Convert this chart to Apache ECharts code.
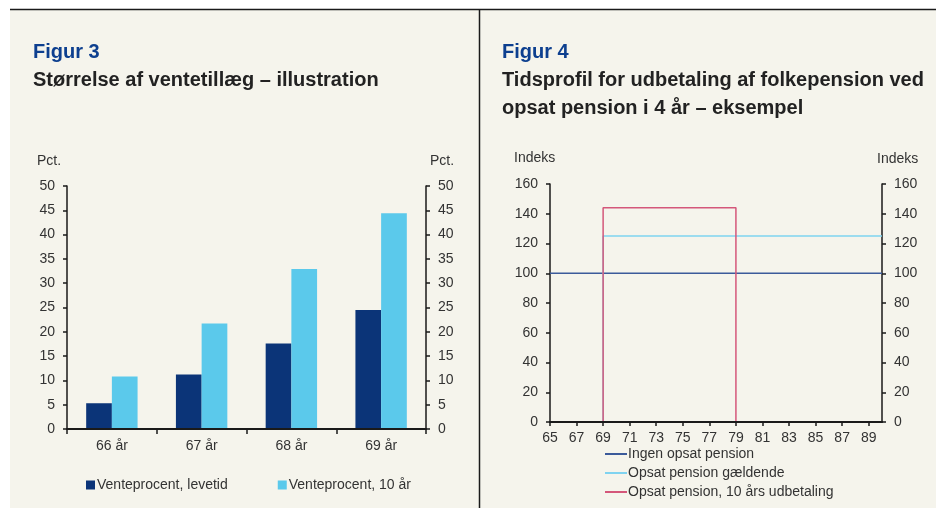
<!DOCTYPE html>
<html>
<head>
<meta charset="utf-8">
<script src="https://cdn.jsdelivr.net/npm/echarts@6/dist/echarts.min.js"></script>
<style>
  html, body { margin: 0; padding: 0; background: #ffffff; }
  #main { width: 936px; height: 508px; }
</style>
</head>
<body>
<div id="main"></div>
<script>
// Figur 3: ventetillæg
var alder = ['66 år', '67 år', '68 år', '69 år'];
var levetid = [5.3, 11.2, 17.6, 24.5];
var tiAar = [10.8, 21.7, 32.9, 44.4];

// Figur 4: tidsprofil
var aar = ['65','66','67','68','69','70','71','72','73','74','75','76','77','78','79','80','81','82','83','84','85','86','87','88','89','90'];
var ingenOpsat = [100,100,100,100,100,100,100,100,100,100,100,100,100,100,100,100,100,100,100,100,100,100,100,100,100,100];
var opsatGaeldende = [0,0,0,0,125,125,125,125,125,125,125,125,125,125,125,125,125,125,125,125,125,125,125,125,125,125];
var opsat10aar = [0,0,0,0,144,144,144,144,144,144,144,144,144,144,0,0,0,0,0,0,0,0,0,0,0,0];

var font = 'Liberation Sans, Arial, sans-serif';
var txt = '#333333';
var ax = { lineStyle: { color: '#1a1a1a', width: 1.5 } };

var chart = echarts.init(document.getElementById('main'));

function yAxisDef(grid, pos, max, interval) {
    return {
        type: 'value', gridIndex: grid, position: pos,
        min: 0, max: max, interval: interval,
        axisLine: { show: true, lineStyle: ax.lineStyle },
        axisTick: { show: true, length: 4, lineStyle: ax.lineStyle },
        axisLabel: { color: txt, fontSize: 14, fontFamily: font, margin: 12 },
        splitLine: { show: false }
    };
}

var option = {
    backgroundColor: '#ffffff',
    animation: false,
    graphic: [
        { type: 'rect', shape: { x: 10, y: 9, width: 926, height: 499 }, style: { fill: '#f5f4ec' }, z: -10 },
        { type: 'line', shape: { x1: 10, y1: 9.5, x2: 936, y2: 9.5 }, style: { stroke: '#1a1a1a', lineWidth: 1.5 } },
        { type: 'line', shape: { x1: 479.5, y1: 9, x2: 479.5, y2: 508 }, style: { stroke: '#1a1a1a', lineWidth: 1.5 } },
        { type: 'text', left: 33, top: 42, style: { text: 'Figur 3', fill: '#0d3f8f', font: 'bold 20px ' + font } },
        { type: 'text', left: 33, top: 70, style: { text: 'Størrelse af ventetillæg – illustration', fill: '#222222', font: 'bold 20px ' + font } },
        { type: 'text', left: 502, top: 42, style: { text: 'Figur 4', fill: '#0d3f8f', font: 'bold 20px ' + font } },
        { type: 'text', left: 502, top: 66, style: { text: 'Tidsprofil for udbetaling af folkepension ved\nopsat pension i 4 år – eksempel', fill: '#222222', font: 'bold 20px ' + font, lineHeight: 28 } },
        { type: 'text', left: 37, top: 154, style: { text: 'Pct.', fill: txt, font: '14px ' + font } },
        { type: 'text', left: 430, top: 154, style: { text: 'Pct.', fill: txt, font: '14px ' + font } },
        { type: 'text', left: 514, top: 151, style: { text: 'Indeks', fill: txt, font: '14px ' + font } },
        { type: 'text', left: 877, top: 152, style: { text: 'Indeks', fill: txt, font: '14px ' + font } }
    ],
    legend: [
        {
            data: ['Venteprocent, levetid', 'Venteprocent, 10 år'],
            left: 86, top: 478, padding: 0, itemWidth: 9, itemHeight: 9, itemGap: 50,
            icon: 'rect',
            textStyle: { color: txt, fontSize: 14, fontFamily: font, padding: [0, 0, 0, -3] }
        },
        {
            data: ['Ingen opsat pension', 'Opsat pension gældende', 'Opsat pension, 10 års udbetaling'],
            orient: 'vertical', left: 605, top: 447, padding: 0, height: 61,
            itemWidth: 22, itemHeight: 2, itemGap: 5,
            icon: 'rect',
            textStyle: { color: txt, fontSize: 14, fontFamily: font, padding: [0, 0, 0, -4] }
        }
    ],
    grid: [
        { left: 67, right: 510, top: 186, bottom: 79 },
        { left: 550, right: 54, top: 184, bottom: 86 }
    ],
    xAxis: [
        {
            type: 'category', gridIndex: 0, data: alder, z: 5,
            axisLine: { show: true, lineStyle: { color: '#1a1a1a', width: 2 } },
            axisTick: { show: true, length: 5, lineStyle: ax.lineStyle },
            axisLabel: { color: txt, fontSize: 14, fontFamily: font, margin: 10 }
        },
        {
            type: 'category', gridIndex: 1, data: aar, boundaryGap: false, z: 5,
            axisLine: { show: true, lineStyle: { color: '#1a1a1a', width: 2 } },
            axisTick: { show: true, length: 4, interval: 1, lineStyle: ax.lineStyle },
            axisLabel: { color: txt, fontSize: 14, fontFamily: font, margin: 9, interval: 1 }
        }
    ],
    yAxis: [
        yAxisDef(0, 'left', 50, 5),
        yAxisDef(0, 'right', 50, 5),
        yAxisDef(1, 'left', 160, 20),
        yAxisDef(1, 'right', 160, 20)
    ],
    series: [
        {
            name: 'Venteprocent, levetid', type: 'bar', xAxisIndex: 0, yAxisIndex: 0,
            data: levetid, barWidth: 25.7, barGap: '0%',
            itemStyle: { color: '#0b3478' }
        },
        {
            name: 'Venteprocent, 10 år', type: 'bar', xAxisIndex: 0, yAxisIndex: 0,
            data: tiAar, barWidth: 25.7, barGap: '0%',
            itemStyle: { color: '#5bc9eb' }
        },
        {
            name: 'Ingen opsat pension', type: 'line', xAxisIndex: 1, yAxisIndex: 2,
            data: ingenOpsat, showSymbol: false,
            lineStyle: { color: '#3b5a9a', width: 1.5 }, itemStyle: { color: '#3b5a9a' }
        },
        {
            name: 'Opsat pension gældende', type: 'line', xAxisIndex: 1, yAxisIndex: 2,
            data: opsatGaeldende, step: 'end', showSymbol: false,
            lineStyle: { color: '#7fd3f0', width: 1.5 }, itemStyle: { color: '#7fd3f0' }
        },
        {
            name: 'Opsat pension, 10 års udbetaling', type: 'line', xAxisIndex: 1, yAxisIndex: 2,
            data: opsat10aar, step: 'end', showSymbol: false,
            lineStyle: { color: '#d4577a', width: 1.5 }, itemStyle: { color: '#d4577a' }
        }
    ]
};

chart.setOption(option);
</script>
</body>
</html>
